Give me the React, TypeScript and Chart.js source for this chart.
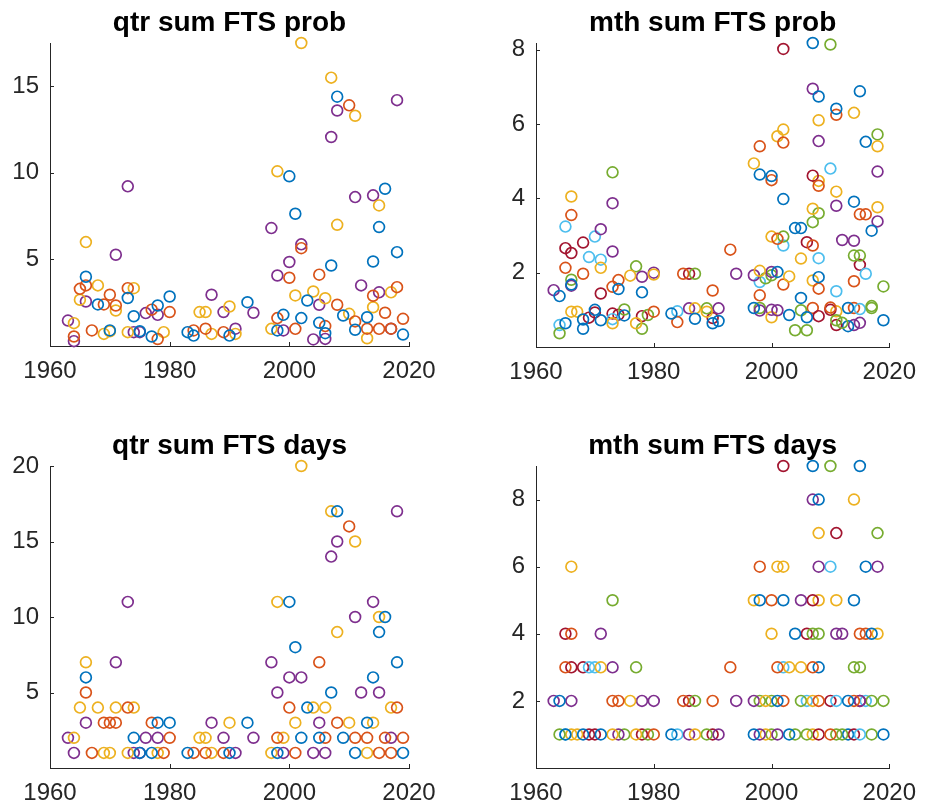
import React, { useEffect, useRef } from "react";
import { Chart, registerables } from "chart.js";

Chart.register(...registerables);

// ---------- axis ticks ----------
const YEAR_TICKS = [1960, 1980, 2000, 2020];
const QTR_PROB_TICKS = [5, 10, 15];
const MTH_PROB_TICKS = [2, 4, 6, 8];
const QTR_DAYS_TICKS = [5, 10, 15, 20];
const MTH_DAYS_TICKS = [2, 4, 6, 8];

// MATLAB default colour order
const MATLAB_COLORS = ["#0072BD", "#D95319", "#EDB120", "#7E2F8E", "#77AC30", "#4DBEEE", "#A2142F"];

type Pt = [number, number];

// ---------- qtr sum FTS prob (Q1..Q4) ----------
const qtrProbQ1: Pt[] = [[1966,4.0],[1968,2.4],[1970,0.9],[1973,2.77],[1974,1.72],[1975,0.85],[1977,0.55],[1978,2.34],[1980,2.86],[1983,0.8],[1984,0.6],[1990,0.6],[1993,2.53],[1998,0.9],[1999,1.8],[2000,9.8],[2001,7.64],[2002,1.61],[2003,2.63],[2005,1.34],[2006,0.74],[2007,4.65],[2008,14.4],[2009,1.76],[2011,0.94],[2013,1.66],[2014,4.88],[2015,6.87],[2016,9.08],[2018,5.42],[2019,0.66]];
const qtrProbQ2: Pt[] = [[1964,0.55],[1965,3.3],[1966,3.5],[1967,0.9],[1969,2.4],[1970,2.96],[1971,2.34],[1973,3.34],[1977,2.1],[1978,0.4],[1980,1.96],[1984,0.9],[1986,1.0],[1989,0.8],[1998,1.61],[2000,3.94],[2001,0.99],[2002,5.65],[2005,4.12],[2006,1.15],[2008,2.38],[2010,13.9],[2011,1.42],[2013,1.0],[2014,2.9],[2015,0.99],[2016,1.92],[2017,1.0],[2018,3.4],[2019,1.57]];
const qtrProbQ3: Pt[] = [[1964,1.32],[1965,2.67],[1966,6.0],[1968,3.5],[1969,0.7],[1970,0.85],[1971,2.05],[1973,0.8],[1974,3.34],[1979,0.8],[1985,1.96],[1986,1.96],[1987,0.7],[1990,2.28],[1991,0.7],[1997,0.99],[1998,10.09],[2001,2.92],[2002,17.5],[2004,3.15],[2006,2.76],[2007,15.5],[2008,7.0],[2010,1.86],[2011,13.3],[2013,0.45],[2014,2.24],[2015,8.12],[2017,3.1]];
const qtrProbQ4: Pt[] = [[1963,1.47],[1964,0.28],[1966,2.57],[1971,5.27],[1973,9.22],[1974,0.8],[1975,0.8],[1976,1.9],[1978,1.8],[1987,2.96],[1989,1.96],[1991,1.0],[1994,1.92],[1997,6.81],[1998,4.07],[1999,0.9],[2000,4.85],[2002,5.87],[2004,0.38],[2005,2.38],[2006,0.41],[2007,12.07],[2008,13.6],[2011,8.6],[2012,3.5],[2014,8.7],[2015,3.1],[2017,1.0],[2018,14.2]];

// ---------- qtr sum FTS days (Q1..Q4) ----------
const qtrDaysQ1: Pt[] = [[1966,6],[1974,2],[1975,1],[1977,1],[1978,3],[1980,3],[1983,1],[1990,1],[1993,3],[1998,1],[2000,11],[2001,8],[2002,2],[2003,4],[2005,2],[2007,5],[2008,17],[2009,2],[2011,1],[2013,3],[2014,6],[2015,9],[2016,10],[2018,7],[2019,1]];
const qtrDaysQ2: Pt[] = [[1966,5],[1967,1],[1969,3],[1970,3],[1971,3],[1973,4],[1977,3],[1979,1],[1980,2],[1984,1],[1986,1],[1989,1],[1998,2],[2000,4],[2001,1],[2005,7],[2006,2],[2008,3],[2010,16],[2011,2],[2013,2],[2015,1],[2016,2],[2017,1],[2018,4],[2019,2]];
const qtrDaysQ3: Pt[] = [[1964,2],[1965,4],[1966,7],[1968,4],[1969,1],[1970,1],[1971,4],[1973,1],[1974,4],[1978,1],[1985,2],[1986,2],[1987,1],[1990,3],[1997,1],[1998,11],[1999,2],[2001,3],[2002,20],[2004,4],[2006,4],[2007,17],[2008,9],[2010,3],[2011,15],[2013,1],[2014,3],[2015,10],[2017,4]];
const qtrDaysQ4: Pt[] = [[1963,2],[1964,1],[1966,3],[1971,7],[1973,11],[1974,1],[1975,1],[1976,2],[1978,2],[1987,3],[1989,2],[1991,1],[1994,2],[1997,7],[1998,5],[1999,1],[2000,6],[2002,6],[2004,1],[2005,3],[2006,1],[2007,14],[2008,15],[2011,10],[2012,5],[2014,11],[2015,5],[2017,2],[2018,17]];

// ---------- mth sum FTS prob (months 1..12) ----------
const mthProbM01: Pt[] = [[1964,1.37],[1965,0.64],[1966,1.68],[1968,0.74],[1970,1.0],[1971,0.72],[1974,1.56],[1975,0.85],[1978,1.47],[1983,0.9],[1987,0.76],[1990,0.64],[1991,0.7],[1997,1.05],[1998,4.64],[2000,4.6],[2001,2.02],[2002,3.98],[2003,0.86],[2004,3.2],[2005,3.2],[2006,0.8],[2007,8.18],[2008,6.74],[2011,6.41],[2013,1.05],[2014,3.91],[2015,6.88],[2016,5.52],[2017,3.13],[2019,0.72]];
const mthProbM02: Pt[] = [[1965,2.13],[1966,3.55],[1968,1.97],[1973,1.62],[1974,1.8],[1980,0.95],[1984,0.67],[1985,1.97],[1990,1.52],[1993,2.62],[1998,5.4],[2000,4.49],[2001,2.91],[2002,5.5],[2007,2.73],[2008,4.34],[2010,1.06],[2011,6.25],[2014,1.77],[2015,3.57],[2016,3.57]];
const mthProbM03: Pt[] = [[1966,4.05],[1967,0.95],[1971,2.13],[1973,0.64],[1976,1.92],[1977,0.64],[1980,1.95],[1987,1.04],[1989,0.95],[1997,4.94],[1998,2.05],[2000,2.97],[2001,5.67],[2002,5.85],[2003,1.9],[2005,2.38],[2007,3.72],[2008,6.1],[2011,4.18],[2014,6.3],[2018,5.4]];
const mthProbM04: Pt[] = [[1963,1.53],[1966,1.65],[1971,3.17],[1973,3.87],[1978,1.89],[1980,2.0],[1986,1.04],[1991,1.04],[1994,1.97],[1997,1.93],[1998,0.98],[2000,2.02],[2001,0.99],[2007,6.95],[2008,5.54],[2011,3.8],[2012,2.88],[2014,2.86],[2015,0.65],[2018,4.72]];
const mthProbM05: Pt[] = [[1964,0.37],[1966,1.81],[1973,4.7],[1975,1.01],[1977,2.17],[1978,0.49],[1979,0.86],[1987,1.97],[1989,1.04],[1998,1.05],[1999,1.85],[2000,1.93],[2002,2.97],[2004,0.45],[2005,0.99],[2006,0.45],[2007,3.36],[2008,3.6],[2010,8.14],[2011,0.72],[2012,0.65],[2014,2.46],[2015,2.46],[2017,1.05],[2018,5.72],[2019,1.63]];
const mthProbM06: Pt[] = [[1964,0.59],[1965,3.24],[1969,2.42],[1970,2.97],[1971,2.35],[1973,0.75],[1984,0.96],[1998,1.75],[2002,2.73],[2008,2.39],[2010,4.8],[2011,1.5],[2015,1.02],[2016,1.97]];
const mthProbM07: Pt[] = [[1965,2.66],[1966,2.53],[1968,2.81],[1969,0.79],[1970,0.93],[1971,1.44],[1973,0.9],[1974,0.87],[1978,0.83],[1986,1.97],[1990,0.78],[2002,8.02],[2006,2.82],[2007,4.61],[2008,0.83],[2010,1.0],[2011,0.59],[2015,2.21]];
const mthProbM08: Pt[] = [[1968,0.49],[2005,1.32],[2008,1.88],[2013,0.56]];
const mthProbM09: Pt[] = [[1998,1.39],[2002,1.68],[2007,1.05],[2008,1.57],[2014,1.05]];
const mthProbM10: Pt[] = [[1966,0.95],[2000,0.8],[2007,1.79],[2008,4.47],[2011,0.96],[2018,3.76]];
const mthProbM11: Pt[] = [[1973,2.57],[2000,1.0],[2014,0.59],[2018,3.38]];
const mthProbM12: Pt[] = [[2017,1.1]];

// ---------- mth sum FTS days (months 1..12) ----------
const mthDaysM01: Pt[] = [[1964,2],[1965,1],[1968,1],[1971,1],[1983,1],[1997,1],[1998,5],[2001,2],[2002,5],[2003,1],[2004,4],[2007,9],[2008,8],[2013,2],[2014,5],[2015,9],[2016,6],[2017,4],[2019,1]];
const mthDaysM02: Pt[] = [[1965,3],[1966,4],[1973,2],[1974,2],[1980,1],[1985,2],[1990,2],[1993,3],[1998,6],[2000,5],[2001,3],[2002,2],[2007,3],[2008,2],[2010,1],[2014,2],[2015,4],[2016,4]];
const mthDaysM03: Pt[] = [[1966,6],[1967,1],[1971,3],[1973,1],[1976,2],[1977,1],[1987,1],[1997,5],[1999,2],[2000,4],[2001,6],[2002,6],[2003,3],[2005,3],[2007,2],[2008,7],[2011,5],[2014,8],[2018,4]];
const mthDaysM04: Pt[] = [[1963,2],[1966,2],[1971,4],[1973,3],[1974,1],[1978,2],[1980,2],[1986,1],[1991,1],[1994,2],[1997,2],[1998,1],[2001,1],[2005,5],[2007,8],[2008,6],[2011,4],[2012,4],[2015,2],[2018,6]];
const mthDaysM05: Pt[] = [[1964,1],[1973,5],[1975,1],[1977,3],[1979,1],[1987,2],[1989,1],[1998,2],[2000,2],[2004,1],[2005,2],[2006,1],[2007,4],[2008,4],[2010,9],[2011,1],[2012,1],[2014,3],[2015,3],[2017,2],[2018,7],[2019,2]];
const mthDaysM06: Pt[] = [[1965,1],[1969,3],[1970,3],[1984,1],[2002,3],[2006,2],[2010,6],[2011,2],[2015,1],[2016,2]];
const mthDaysM07: Pt[] = [[1965,4],[1966,3],[1968,3],[1969,1],[1970,1],[1978,1],[1986,2],[1990,1],[2002,9],[2006,4],[2007,5],[2008,1],[2010,2],[2011,7],[2014,1],[2015,2]];
const mthDaysM08: Pt[] = [[2008,3],[2013,1]];
const mthDaysM09: Pt[] = [];
const mthDaysM10: Pt[] = [[1966,1],[1999,1],[2007,1],[2008,5]];
const mthDaysM11: Pt[] = [];
const mthDaysM12: Pt[] = [[2000,1],[2017,1]];

const QTR_PROB = [qtrProbQ1, qtrProbQ2, qtrProbQ3, qtrProbQ4];
const QTR_DAYS = [qtrDaysQ1, qtrDaysQ2, qtrDaysQ3, qtrDaysQ4];
const MTH_PROB = [mthProbM01, mthProbM02, mthProbM03, mthProbM04, mthProbM05, mthProbM06, mthProbM07, mthProbM08, mthProbM09, mthProbM10, mthProbM11, mthProbM12];
const MTH_DAYS = [mthDaysM01, mthDaysM02, mthDaysM03, mthDaysM04, mthDaysM05, mthDaysM06, mthDaysM07, mthDaysM08, mthDaysM09, mthDaysM10, mthDaysM11, mthDaysM12];

const FONT = "'Liberation Sans', Arial, Helvetica, sans-serif";
const AXIS_COLOR = "#262626";
const TITLE_SIZE = 28;
const TICK_SIZE = 24;

const innerTicks = {
  id: "innerTicks",
  afterDraw(chart: any) {
    const { ctx, chartArea, scales } = chart;
    const len = 4;
    ctx.save();
    ctx.strokeStyle = AXIS_COLOR;
    ctx.lineWidth = 1;
    ctx.beginPath();
    for (const t of scales.x.ticks) {
      const px = Math.round(scales.x.getPixelForValue(t.value)) + 0.5;
      ctx.moveTo(px, chartArea.bottom);
      ctx.lineTo(px, chartArea.bottom - len);
    }
    for (const t of scales.y.ticks) {
      const py = Math.round(scales.y.getPixelForValue(t.value)) + 0.5;
      ctx.moveTo(chartArea.left, py);
      ctx.lineTo(chartArea.left + len, py);
    }
    ctx.stroke();
    // centred title above the axes, MATLAB style
    const title = chart.options.plugins.axesTitle?.text;
    if (title) {
      ctx.fillStyle = "#000000";
      ctx.font = `bold ${TITLE_SIZE}px ${FONT}`;
      ctx.textAlign = "center";
      ctx.textBaseline = "alphabetic";
      ctx.fillText(title, (chartArea.left + chartArea.right) / 2, chartArea.top - 12);
    }
    ctx.restore();
  },
};

type PanelProps = {
  left: number; top: number; width: number; height: number;
  plotLeft: number; plotTop: number; plotRight: number; plotBottom: number;
  title: string; series: Pt[][]; yTicks: number[];
};

function Panel(p: PanelProps) {
  const ref = useRef<HTMLCanvasElement | null>(null);
  useEffect(() => {
    if (!ref.current) return;
    const yMax = Math.max(...p.series.flat().map((d) => d[1]));
    const chart = new Chart(ref.current, {
      type: "scatter",
      data: {
        datasets: p.series.map((s, i) => ({
          data: s.map(([x, y]) => ({ x, y })),
          borderColor: MATLAB_COLORS[i % 7],
          backgroundColor: "rgba(0,0,0,0)",
          pointRadius: 5.4,
          pointHoverRadius: 5.4,
          pointBorderWidth: 1.7,
          showLine: false,
          clip: false as any,
        })),
      },
      options: {
        animation: false,
        responsive: false,
        maintainAspectRatio: false,
        events: [],
        layout: { padding: { left: 0, top: p.plotTop, right: p.width - p.plotRight, bottom: 0 } },
        plugins: {
          legend: { display: false },
          tooltip: { enabled: false },
          title: { display: false },
          axesTitle: { text: p.title },
        },
        scales: {
          x: {
            type: "linear",
            min: 1960,
            max: 2020,
            grid: { display: false, drawTicks: false },
            border: { display: true, color: AXIS_COLOR, width: 1 },
            ticks: {
              color: AXIS_COLOR, font: { family: FONT, size: TICK_SIZE }, padding: 11, maxRotation: 0,
              callback: (v: any) => String(v),
            },
            afterBuildTicks: (axis: any) => { axis.ticks = YEAR_TICKS.map((v) => ({ value: v })); },
            afterFit: (axis: any) => { axis.height = p.height - p.plotBottom; },
          },
          y: {
            type: "linear",
            min: 0,
            max: yMax,
            grid: { display: false, drawTicks: false },
            border: { display: true, color: AXIS_COLOR, width: 1 },
            ticks: {
              color: AXIS_COLOR, font: { family: FONT, size: TICK_SIZE }, padding: 11,
              callback: (v: any) => String(v),
            },
            afterBuildTicks: (axis: any) => { axis.ticks = p.yTicks.map((v) => ({ value: v })); },
            afterFit: (axis: any) => { axis.width = p.plotLeft; },
          },
        },
      } as any,
      plugins: [innerTicks],
    });
    return () => chart.destroy();
  }, []);
  return (
    <div style={{ position: "absolute", left: p.left, top: p.top, width: p.width, height: p.height }}>
      <canvas ref={ref} width={p.width} height={p.height} style={{ width: p.width, height: p.height, display: "block" }} />
    </div>
  );
}

export default function App() {
  return (
    <div style={{ position: "absolute", left: 0, top: 0, width: 927, height: 809, background: "#fff" }}>
      <Panel left={0} top={0} width={460} height={400} plotLeft={50} plotTop={43} plotRight={409} plotBottom={346}
        title="qtr sum FTS prob" series={QTR_PROB} yTicks={QTR_PROB_TICKS} />
      <Panel left={460} top={0} width={467} height={400} plotLeft={76} plotTop={43} plotRight={436} plotBottom={347}
        title="mth sum FTS prob" series={MTH_PROB} yTicks={MTH_PROB_TICKS} />
      <Panel left={0} top={400} width={460} height={409} plotLeft={50} plotTop={66} plotRight={409} plotBottom={368}
        title="qtr sum FTS days" series={QTR_DAYS} yTicks={QTR_DAYS_TICKS} />
      <Panel left={460} top={400} width={467} height={409} plotLeft={76} plotTop={66} plotRight={436} plotBottom={368}
        title="mth sum FTS days" series={MTH_DAYS} yTicks={MTH_DAYS_TICKS} />
    </div>
  );
}
